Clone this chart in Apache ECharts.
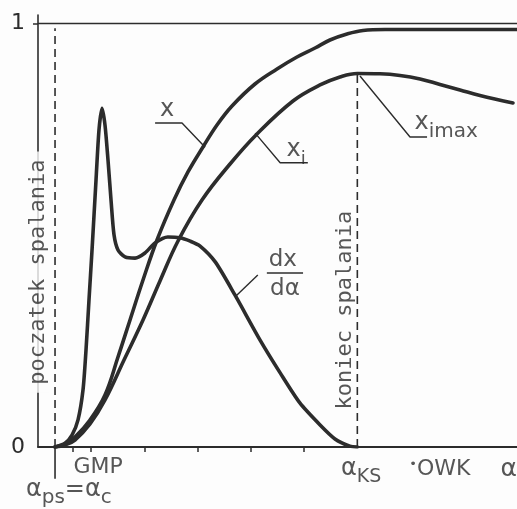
<!DOCTYPE html>
<html>
<head>
<meta charset="utf-8">
<script src="https://cdn.jsdelivr.net/npm/echarts@6/dist/echarts.min.js"></script>
<style>
  html, body { margin: 0; padding: 0; background: #fdfdfd; }
  #chart { width: 517px; height: 509px; }
</style>
</head>
<body>
<div id="chart"></div>
<script>
// Crank angle alpha in degrees (0 = GMP), fractions on 0..1

// start / end of combustion
const ALPHA_PS = -6.8;
const ALPHA_KS = 50;
const XI_MAX = 0.882;
const X_TOP = 0.989;

// x: burnt fuel fraction
const xAngle = [-6.8, -4.93, -3.05, -0.23, 2.59, 5.03, 7.29, 9.73, 12.36, 15.55, 18.18, 21.0, 23.63, 26.45, 30.77, 34.91, 38.66, 42.05, 44.86, 48.06, 51.07, 55.2, 62, 70, 80];
const xValue = [0, 0.0071, 0.0236, 0.0638, 0.1228, 0.2125, 0.300, 0.3943, 0.4888, 0.5832, 0.6494, 0.7084, 0.7603, 0.8052, 0.8571, 0.8926, 0.9209, 0.9421, 0.961, 0.9752, 0.9835, 0.9858, 0.9858, 0.9858, 0.9858];

// x_i: fraction of heat released
const xiAngle = [-6.8, -4.93, -3.05, -0.23, 2.59, 6.16, 9.73, 12.92, 16.31, 20.81, 26.08, 31.15, 37.91, 42.99, 46.74, 50, 54.26, 58.02, 61.78, 65.53, 69.29, 73.05, 79.25];
const xiValue = [0, 0.0047, 0.0165, 0.0543, 0.111, 0.2054, 0.2999, 0.392, 0.4864, 0.5832, 0.6682, 0.7391, 0.817, 0.8548, 0.8737, 0.882, 0.8812, 0.8772, 0.869, 0.856, 0.843, 0.830, 0.8123];

// dx/dalpha: burning rate
const dxAngle = [-6.8, -4.93, -3.61, -2.48, -1.54, -0.98, -0.42, 0.15, 0.90, 1.46, 2.03, 2.59, 3.15, 3.72, 4.28, 5.03, 6.35, 8.23, 10.1, 12.0, 14.4, 16.7, 18.6, 20.4, 23.3, 27.0, 31.7, 35.5, 39.2, 43.0, 45.8, 48.6, 50];
const dxValue = [0, 0.009, 0.028, 0.064, 0.135, 0.229, 0.347, 0.465, 0.630, 0.749, 0.800, 0.760, 0.678, 0.583, 0.501, 0.465, 0.449, 0.446, 0.458, 0.482, 0.496, 0.494, 0.486, 0.475, 0.437, 0.359, 0.253, 0.175, 0.104, 0.052, 0.019, 0.002, 0];

// x-axis ticks
const tickAngles = [-3.5, 0, 10, 20, 30, 40];

const INK = '#2c2c2c';
const BG = '#fdfdfd';
const FONT = "'DejaVu Sans', sans-serif";
const MONO = "'DejaVu Sans Mono', monospace";

const pairs = (a, b) => a.map((v, i) => [v, b[i]]);

const thick = { color: INK, width: 3.6, cap: 'round', join: 'round' };
const thin = { color: INK, width: 1.4 };
const dashed = { color: INK, width: 1.6, type: [8, 5] };

function polyline(points, style, extra) {
  return Object.assign({
    type: 'line', data: points, symbol: 'none', silent: true,
    lineStyle: style, animation: false
  }, extra || {});
}

const sub = { fontFamily: FONT, fontSize: 18, color: INK, verticalAlign: 'bottom', lineHeight: 30 };
const main = { fontFamily: FONT, fontSize: 24, color: INK, verticalAlign: 'top', lineHeight: 25 };

// text annotations anchored in data coordinates
const notes = [
  { value: [14.24, 0.796], label: { formatter: 'x', fontSize: 24 } },
  { value: [38.5, 0.694], label: { formatter: '{m|x}{s|i}', rich: { m: main, s: sub } } },
  { value: [66.7, 0.758], label: { formatter: '{m|x}{s|imax}', rich: { m: main, s: Object.assign({}, sub, { fontSize: 20, lineHeight: 31 }) } } },
  { value: [36.0, 0.442], label: { formatter: 'dx', fontSize: 23 } },
  { value: [36.4, 0.372], label: { formatter: 'dα', fontSize: 23 } },
  { value: [-10, 0.413], label: { formatter: 'poczatek spalania', fontFamily: MONO, fontSize: 22, rotate: 90, backgroundColor: BG, padding: [0, 8] } },
  { value: [47.7, 0.323], label: { formatter: 'koniec spalania', fontFamily: MONO, fontSize: 22, rotate: 90 } },
  { value: [1.3, -0.048], label: { formatter: 'GMP', fontSize: 22 } },
  { value: [-4.2, -0.108], label: { formatter: '{m|α}{s|ps}{m|=α}{s|c}', rich: { m: main, s: Object.assign({}, sub, { fontSize: 20 }) } } },
  { value: [50.7, -0.058], label: { formatter: '{m|α}{s|KS}', rich: { m: main, s: Object.assign({}, sub, { fontSize: 19 }) } } },
  { value: [65.5, -0.052], label: { formatter: '{d|•}{m|OWK}', rich: { d: { fontSize: 13, color: INK, verticalAlign: 'top', lineHeight: 22 }, m: { fontFamily: FONT, fontSize: 22, color: INK, verticalAlign: 'top', lineHeight: 22 } } } },
  { value: [76.9, -0.052], label: { formatter: 'α', fontSize: 25, align: 'left' } }
];

const chart = echarts.init(document.getElementById('chart'), null, { renderer: 'canvas' });

chart.setOption({
  animation: false,
  backgroundColor: BG,
  grid: { left: 38, right: 0, top: 15, bottom: 62 },
  xAxis: {
    type: 'value', min: -10, max: 80,
    axisLine: { lineStyle: { color: INK, width: 1.8 } },
    axisTick: { show: true, customValues: tickAngles, length: 5, lineStyle: { color: INK, width: 1.5 } },
    axisLabel: { show: false },
    splitLine: { show: false }
  },
  yAxis: {
    type: 'value', min: 0, max: 1.02,
    axisLine: { show: true, onZero: false, lineStyle: { color: INK, width: 1.6 } },
    axisTick: { show: true, customValues: [1], length: 5, lineStyle: { color: INK, width: 1.5 } },
    axisLabel: { customValues: [0, 1], fontFamily: FONT, fontSize: 22, color: INK, margin: 13 },
    splitLine: { show: false }
  },
  series: [
    polyline([[-10, 1], [80, 1]], { color: INK, width: 1.5 }),
    polyline([[ALPHA_PS, 0], [ALPHA_PS, X_TOP]], dashed),
    polyline([[ALPHA_PS, -0.075], [ALPHA_PS, 0]], { color: INK, width: 1.6 }, { clip: false }),
    polyline([[ALPHA_KS, 0], [ALPHA_KS, XI_MAX]], dashed),
    polyline(pairs(xAngle, xValue), thick, { smooth: 0.4, z: 4 }),
    polyline(pairs(xiAngle, xiValue), thick, { smooth: 0.4, z: 4 }),
    polyline(pairs(dxAngle, dxValue), thick, { smooth: 0.25, z: 4 }),
    // leader lines and fraction bar
    polyline([[12.0, 0.765], [17.06, 0.765], [21.4, 0.708]], thin),
    polyline([[40.7, 0.671], [35.5, 0.671], [30.8, 0.741]], thin),
    polyline([[50.5, 0.876], [59.9, 0.732], [63.1, 0.732]], thin),
    polyline([[31.3, 0.406], [27.0, 0.354]], thin),
    polyline([[33.0, 0.411], [39.8, 0.411]], { color: INK, width: 1.6 }),
    {
      type: 'scatter', symbolSize: 0, silent: true, clip: false, z: 6,
      label: { show: true, position: 'inside', color: INK, fontFamily: FONT, fontSize: 22 },
      data: notes
    }
  ]
});
</script>
</body>
</html>
